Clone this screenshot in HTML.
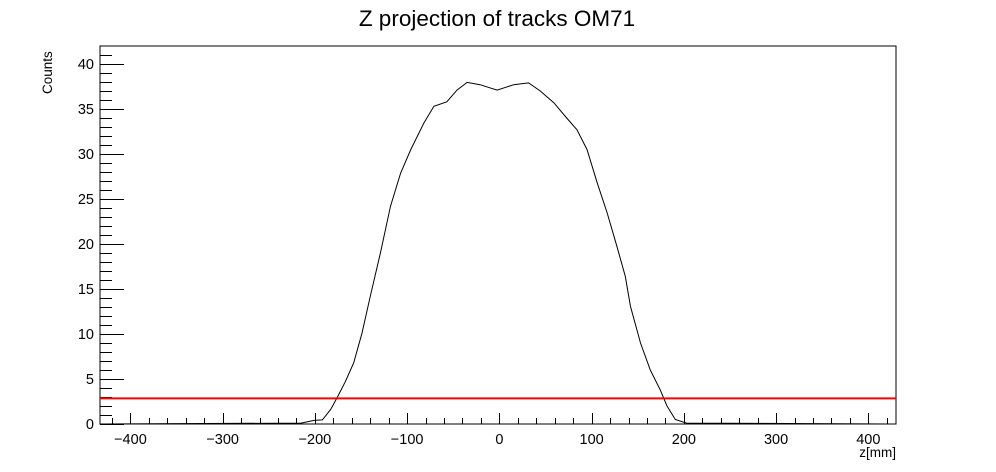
<!DOCTYPE html>
<html><head><meta charset="utf-8"><style>
html,body{margin:0;padding:0;background:#fff;}
svg{display:block;font-family:"Liberation Sans",Arial,sans-serif;}
</style></head><body>
<svg id="chart" width="996" height="472" viewBox="0 0 996 472">
<rect x="0" y="0" width="996" height="472" fill="#fff"/>
<text x="497" y="26" text-anchor="middle" font-size="22.5">Z projection of tracks OM71</text>
<g id="axes"></g>
<g id="series"></g>
<text x="896" y="457" text-anchor="end" font-size="13.5">z[mm]</text>
<text transform="translate(52,94) rotate(-90)" text-anchor="start" font-size="13.5">Counts</text>
</svg>
<script>
const zValues=[-430,-215,-201,-192,-183,-176,-167,-158,-149,-140,-129,-118,-107,-96,-82,-71,-57,-46,-35,-21,-2.5,15.5,31.7,44.4,59,73,84,95,106,117,127.5,136.5,142,153,163.6,174.4,181.7,190.7,203,430];
const counts=[0,0.1,0.4,0.45,1.6,2.9,4.7,6.8,10.1,14.2,19,24.2,27.9,30.5,33.4,35.3,35.8,37.1,37.95,37.7,37.1,37.7,37.9,37.0,35.7,34,32.7,30.5,26.8,23.4,19.7,16.4,13.1,9,6,3.8,2,0.5,0.1,0];
const xTicks=[-400,-300,-200,-100,0,100,200,300,400];
const yTicks=[0,5,10,15,20,25,30,35,40];
const thresholdValue=[2.85];

const L=100,R=896,T=46,B=424;
const xMin=-433,xMax=430,yMin=0,yMax=42;
const xs=v=>L+(v-xMin)/(xMax-xMin)*(R-L);
const ys=v=>B-(v-yMin)/(yMax-yMin)*(B-T);
const NS="http://www.w3.org/2000/svg";
const axes=document.getElementById('axes');
const series=document.getElementById('series');
function mk(tag,attrs,parent){const e=document.createElementNS(NS,tag);for(const k in attrs)e.setAttribute(k,attrs[k]);parent.appendChild(e);return e;}

const frame=mk('rect',{x:L,y:T,width:R-L,height:B-T,fill:'none',stroke:'#000','stroke-width':1},axes);



for(let v=-420;v<=420;v+=20){
  const major=(v%100===0);
  const x=Math.round(xs(v))+0.5;
  const t=mk('line',{x1:x,x2:x,y1:B,y2:B-(major?11:6),stroke:'#000','stroke-width':1},axes);
  
  
}
xTicks.forEach(v=>{
  const t=mk('text',{x:xs(v),y:B+20,'text-anchor':'middle','font-size':14.5},axes);
  t.textContent=(v<0?'\u2212'+(-v):String(v));
  
  
});
for(let v=0;v<=41;v+=1){
  const major=(v%5===0);
  const y=Math.round(ys(v))+0.5;
  const t=mk('line',{x1:L,x2:L+(major?24:12),y1:y,y2:y,stroke:'#000','stroke-width':1},axes);
  
  
}
yTicks.forEach(v=>{
  const t=mk('text',{x:L-6,y:ys(v)+5,'text-anchor':'end','font-size':14.5},axes);
  t.textContent=String(v);
  
  
});

const pts=zValues.map((z,i)=>xs(z).toFixed(1)+','+ys(counts[i]).toFixed(1)).join(' ');
const pl=mk('polyline',{points:pts,fill:'none',stroke:'#000','stroke-width':1},series);



const th=mk('line',{x1:L,x2:R,y1:ys(thresholdValue[0]),y2:ys(thresholdValue[0]),stroke:'#ff0000','stroke-width':2},series);


</script>
</body></html>
